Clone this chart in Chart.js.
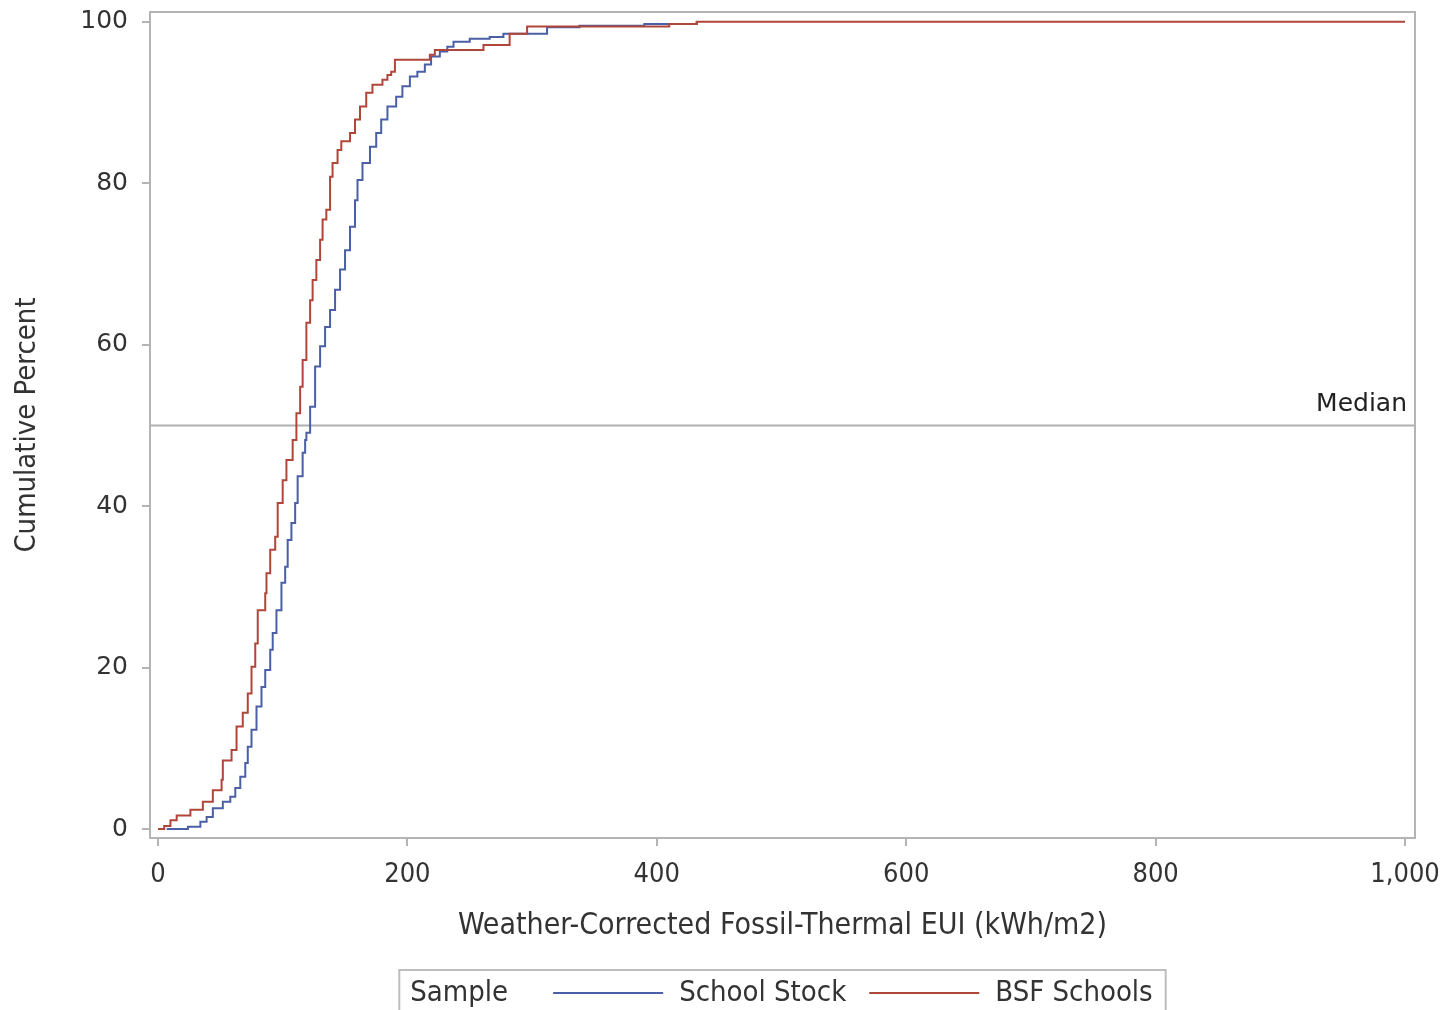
<!DOCTYPE html>
<html>
<head>
<meta charset="utf-8">
<script src="https://cdn.jsdelivr.net/npm/chart.js@4.4.1/dist/chart.umd.min.js"></script>
<style>
html, body { margin: 0; padding: 0; background: #fff; }
#wrap { width: 1444px; height: 1010px; position: relative; }
</style>
</head>
<body>
<div id="wrap"><canvas id="cdfChart"></canvas></div>
<script>
const stockEui = [7, 24, 34, 39, 44, 52, 58, 62, 66, 70, 72, 75, 79, 83, 86, 90, 92, 95, 99, 102, 104, 107, 110, 112, 116, 118, 119, 122, 126, 130, 134, 138, 142, 146, 150, 154, 158, 160, 164, 170, 175, 179, 184, 191, 196, 202, 208, 214, 219, 226, 232, 237, 250, 266, 277, 312, 338, 390, 432];
const stockPct = [0, 0.3, 0.9, 1.5, 2.6, 3.4, 4.0, 5.1, 6.5, 8.2, 10.2, 12.3, 15.2, 17.6, 19.7, 22.2, 24.3, 27.1, 30.5, 32.5, 35.8, 37.9, 40.4, 43.7, 46.6, 48.2, 49.1, 52.3, 57.3, 59.8, 62.2, 64.3, 66.8, 69.3, 71.7, 74.6, 77.9, 80.4, 82.5, 84.5, 86.2, 87.9, 89.5, 90.7, 92.0, 93.2, 93.8, 94.7, 95.7, 96.3, 96.9, 97.5, 97.9, 98.1, 98.5, 99.3, 99.5, 99.7, 100];

const bsfEui = [0, 5, 10, 15, 26, 36, 44, 51, 52, 59, 63, 68, 72, 75, 78, 80, 86, 87, 90, 94, 96, 100, 103, 108, 111, 114, 116, 119, 122, 124, 127, 130, 132, 135, 138, 140, 144, 147, 154, 158, 162, 167, 172, 180, 184, 187, 190, 218, 222, 261, 282, 296, 410, 432, 1000];
const bsfPct = [0, 0.4, 1.1, 1.7, 2.4, 3.4, 4.8, 6.1, 8.5, 9.8, 12.7, 14.4, 16.8, 20.1, 23.0, 27.1, 29.2, 31.7, 34.6, 36.2, 40.4, 43.2, 45.7, 48.2, 51.5, 54.8, 58.1, 62.7, 65.5, 68.0, 70.5, 73.0, 75.5, 76.7, 80.8, 82.5, 84.1, 85.2, 86.2, 87.9, 89.5, 91.2, 92.2, 92.8, 93.4, 93.8, 95.3, 95.9, 96.5, 97.1, 98.5, 99.4, 99.7, 100, 100];

const seriesNames = ['School Stock', 'BSF Schools'];
const legendTitle = 'Sample';
const xTicks = [0, 200, 400, 600, 800, 1000];
const yTicks = [0, 20, 40, 60, 80, 100];
const medianLevel = 50;
const medianLabel = 'Median';

// pick a condensed face if one is installed, else plain Liberation Sans a bit smaller
function hasFont(name) {
    const c = document.createElement('canvas').getContext('2d');
    const probe = 'Weather-Corrected Fossil 0123456789';
    c.font = '40px monospace';
    const base = c.measureText(probe).width;
    c.font = "40px '" + name + "', monospace";
    return Math.abs(c.measureText(probe).width - base) > 0.5;
}
let narrow = "'Liberation Sans', Arial, sans-serif";
let k = 0.93;
for (const f of ['DejaVu Sans Condensed', 'Liberation Sans Narrow', 'Arial Narrow']) {
    if (hasFont(f)) { narrow = "'" + f + "', sans-serif"; k = f === 'DejaVu Sans Condensed' ? 1 : 1.1; break; }
}
const sz = n => Math.round(n * k);
const wide = "'DejaVu Sans', Verdana, sans-serif";
const frameColor = '#b4b4b4';

function toPoints(xs, ys) {
    return xs.map((x, i) => ({ x: x, y: ys[i] }));
}

const framePlugin = {
    id: 'frame',
    beforeDatasetsDraw(chart) {
        const { ctx, chartArea: a, scales } = chart;
        const y = scales.y.getPixelForValue(medianLevel);
        ctx.save();
        ctx.strokeStyle = '#b0b0b0';
        ctx.lineWidth = 2;
        ctx.beginPath();
        ctx.moveTo(a.left, y);
        ctx.lineTo(a.right, y);
        ctx.stroke();
        ctx.fillStyle = '#222';
        ctx.font = '25px ' + wide;
        ctx.textAlign = 'right';
        ctx.textBaseline = 'alphabetic';
        ctx.fillText(medianLabel, a.right - 8, y - 14);
        ctx.restore();
    },
    afterDatasetsDraw(chart) {
        const { ctx, chartArea: a } = chart;
        ctx.save();
        ctx.strokeStyle = frameColor;
        ctx.lineWidth = 2;
        ctx.strokeRect(a.left, a.top, a.right - a.left, a.bottom - a.top);
        ctx.restore();
    },
    afterDraw(chart) {
        // SAS-style inline legend under the axis title
        const { ctx, chartArea: a } = chart;
        const ds = chart.data.datasets;
        ctx.save();
        ctx.font = sz(29) + 'px ' + narrow;
        ctx.textBaseline = 'middle';
        const lineLen = 110;
        let w = 11 + ctx.measureText(legendTitle).width + 45;
        ds.forEach((d, i) => {
            w += lineLen + 16 + ctx.measureText(d.label).width + (i < ds.length - 1 ? 23 : 13);
        });
        const boxLeft = (a.left + a.right) / 2 - w / 2;
        const boxTop = 970;
        const cy = 993;
        ctx.strokeStyle = '#bdbdbd';
        ctx.lineWidth = 2;
        ctx.strokeRect(boxLeft, boxTop, w, 60);
        let x = boxLeft + 11;
        ctx.fillStyle = '#333';
        ctx.fillText(legendTitle, x, cy);
        x += ctx.measureText(legendTitle).width + 45;
        ds.forEach(d => {
            ctx.strokeStyle = d.borderColor;
            ctx.lineWidth = 2;
            ctx.beginPath();
            ctx.moveTo(x, cy);
            ctx.lineTo(x + lineLen, cy);
            ctx.stroke();
            x += lineLen + 16;
            ctx.fillStyle = '#333';
            ctx.fillText(d.label, x, cy);
            x += ctx.measureText(d.label).width + 23;
        });
        ctx.restore();
    }
};

const ctxCdf = document.getElementById('cdfChart').getContext('2d');
const cdfChart = new Chart(ctxCdf, {
    type: 'line',
    data: {
        datasets: [{
            label: seriesNames[0],
            data: toPoints(stockEui, stockPct),
            borderColor: '#4a5fa6',
            borderWidth: 2,
            stepped: true,
            pointRadius: 0,
            fill: false,
            order: 1
        }, {
            label: seriesNames[1],
            data: toPoints(bsfEui, bsfPct),
            borderColor: '#b0463a',
            borderWidth: 2,
            stepped: true,
            pointRadius: 0,
            fill: false,
            order: 0
        }]
    },
    options: {
        responsive: true,
        maintainAspectRatio: false,
        animation: false,
        layout: { padding: { top: 12, right: 29, left: 0, bottom: 0 } },
        plugins: {
            legend: { display: false },
            tooltip: { enabled: false }
        },
        scales: {
            x: {
                type: 'linear',
                min: -6.4,
                max: 1008,
                afterFit: s => { s.height = 172; s.paddingLeft = 0; s.paddingRight = 0; },
                afterBuildTicks: s => { s.ticks = xTicks.map(v => ({ value: v })); },
                grid: { drawOnChartArea: false, drawTicks: true, tickLength: 8, color: frameColor, lineWidth: 2 },
                border: { display: false },
                ticks: {
                    padding: 13,
                    color: '#333',
                    maxRotation: 0,
                    font: { family: narrow, size: sz(27) },
                    callback: v => v.toLocaleString('en-US')
                },
                title: {
                    display: true,
                    text: 'Weather-Corrected Fossil-Thermal EUI (kWh/m2)',
                    color: '#333',
                    font: { family: narrow, size: sz(30) },
                    padding: { top: 0, bottom: 66 }
                }
            },
            y: {
                min: -1.1,
                max: 101.2,
                afterFit: s => { s.width = 150; s.paddingTop = 0; s.paddingBottom = 0; },
                afterBuildTicks: s => { s.ticks = yTicks.map(v => ({ value: v })); },
                grid: { drawOnChartArea: false, drawTicks: true, tickLength: 8, color: frameColor, lineWidth: 2 },
                border: { display: false },
                ticks: {
                    padding: 14,
                    color: '#333',
                    font: { family: wide, size: 25 }
                },
                title: {
                    display: true,
                    text: 'Cumulative Percent',
                    color: '#333',
                    font: { family: narrow, size: sz(29) },
                    padding: { top: 10, bottom: 0 }
                }
            }
        }
    },
    plugins: [framePlugin]
});
</script>
</body>
</html>
